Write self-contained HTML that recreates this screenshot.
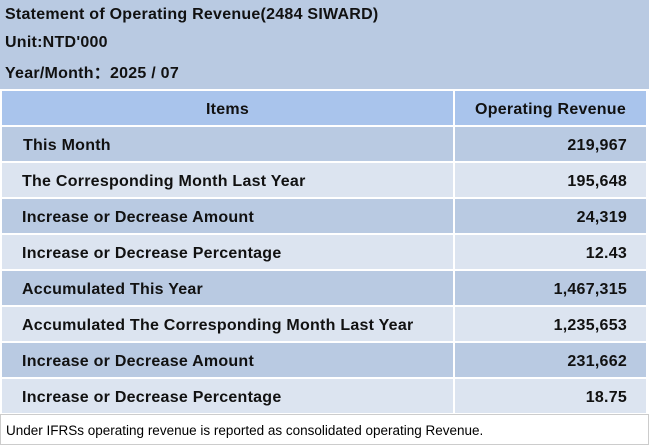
<!DOCTYPE html><html><head><style>
body{margin:0;width:649px;height:445px;background:#fff;font-family:"Liberation Sans",Arial,sans-serif;position:relative;overflow:hidden}
.t{position:absolute;left:5px;font-weight:bold;font-size:16px;letter-spacing:0.25px;color:#111;line-height:18px}
.top{position:absolute;left:0;top:0;width:649px;height:89px;background:#b9cae2}
.r{position:absolute;height:34px;line-height:38px;font-weight:bold;font-size:16px;letter-spacing:0.25px;color:#111}
.l{left:2px;width:451px;padding-left:20px;box-sizing:border-box}
.v{left:455px;width:191px;text-align:right;padding-right:19px;box-sizing:border-box}
.d{background:#b9cae2}.g{background:#dce4f0}.h{background:#a9c4ec;text-align:center;padding:0}
.foot{position:absolute;left:0;top:414px;border:1px solid #ccc;font-size:13.5px;line-height:31px;padding-left:5px;box-sizing:border-box;width:649px;height:31px}
</style></head><body>
<div class="top"></div>
<div class="t" style="top:6px">Statement of Operating Revenue(2484 SIWARD)</div>
<div class="t" style="top:34px">Unit:NTD'000</div>
<div class="t" style="top:65px">Year/Month：2025 / 07</div>
<div class="r l h" style="top:91px">Items</div><div class="r v h" style="top:91px;padding-right:0">Operating Revenue</div>
<div class="r l d" style="top:127px;padding-left:21px">This Month</div><div class="r v d" style="top:127px">219,967</div>
<div class="r l g" style="top:163px">The Corresponding Month Last Year</div><div class="r v g" style="top:163px">195,648</div>
<div class="r l d" style="top:199px">Increase or Decrease Amount</div><div class="r v d" style="top:199px">24,319</div>
<div class="r l g" style="top:235px">Increase or Decrease Percentage</div><div class="r v g" style="top:235px">12.43</div>
<div class="r l d" style="top:271px">Accumulated This Year</div><div class="r v d" style="top:271px">1,467,315</div>
<div class="r l g" style="top:307px">Accumulated The Corresponding Month Last Year</div><div class="r v g" style="top:307px">1,235,653</div>
<div class="r l d" style="top:343px">Increase or Decrease Amount</div><div class="r v d" style="top:343px">231,662</div>
<div class="r l g" style="top:379px">Increase or Decrease Percentage</div><div class="r v g" style="top:379px">18.75</div>
<div class="foot">Under IFRSs operating revenue is reported as consolidated operating Revenue.</div>
</body></html>
